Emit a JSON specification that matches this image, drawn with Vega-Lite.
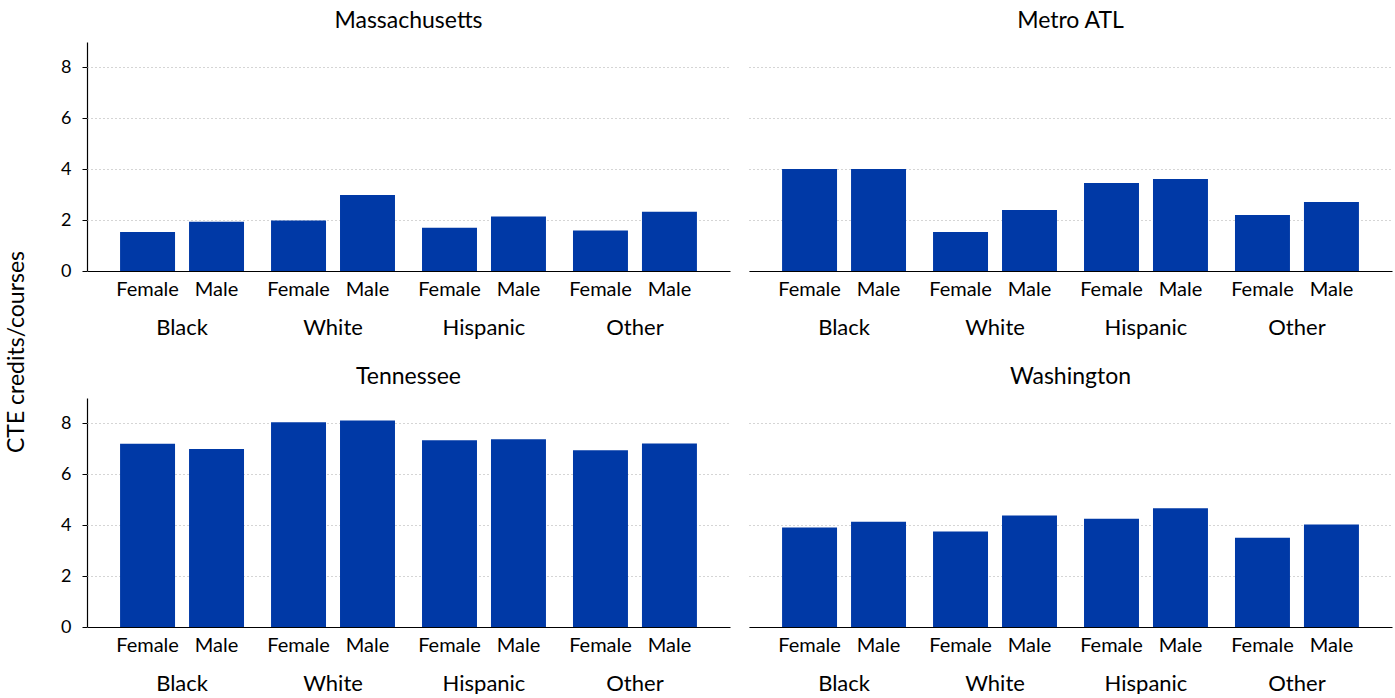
{
  "$schema": "https://vega.github.io/schema/vega-lite/v6.json",
  "background": "white",
  "padding": {"left": 5, "right": 5, "top": 10, "bottom": 0},
  "title": {
    "text": "CTE credits/courses",
    "orient": "left",
    "anchor": "middle",
    "font": "Lato",
    "fontSize": 23,
    "fontWeight": "normal",
    "color": "black",
    "offset": 32
  },
  "data": {
    "values": [
      {"region": "Massachusetts", "race": "Black", "sex": "Female", "credits": 1.53},
      {"region": "Massachusetts", "race": "Black", "sex": "Male", "credits": 1.94},
      {"region": "Massachusetts", "race": "White", "sex": "Female", "credits": 1.98},
      {"region": "Massachusetts", "race": "White", "sex": "Male", "credits": 2.99},
      {"region": "Massachusetts", "race": "Hispanic", "sex": "Female", "credits": 1.70},
      {"region": "Massachusetts", "race": "Hispanic", "sex": "Male", "credits": 2.14},
      {"region": "Massachusetts", "race": "Other", "sex": "Female", "credits": 1.59},
      {"region": "Massachusetts", "race": "Other", "sex": "Male", "credits": 2.33},
      {"region": "Metro ATL", "race": "Black", "sex": "Female", "credits": 4.01},
      {"region": "Metro ATL", "race": "Black", "sex": "Male", "credits": 4.01},
      {"region": "Metro ATL", "race": "White", "sex": "Female", "credits": 1.53},
      {"region": "Metro ATL", "race": "White", "sex": "Male", "credits": 2.40},
      {"region": "Metro ATL", "race": "Hispanic", "sex": "Female", "credits": 3.46},
      {"region": "Metro ATL", "race": "Hispanic", "sex": "Male", "credits": 3.62},
      {"region": "Metro ATL", "race": "Other", "sex": "Female", "credits": 2.20},
      {"region": "Metro ATL", "race": "Other", "sex": "Male", "credits": 2.71},
      {"region": "Tennessee", "race": "Black", "sex": "Female", "credits": 7.20},
      {"region": "Tennessee", "race": "Black", "sex": "Male", "credits": 7.00},
      {"region": "Tennessee", "race": "White", "sex": "Female", "credits": 8.05},
      {"region": "Tennessee", "race": "White", "sex": "Male", "credits": 8.12},
      {"region": "Tennessee", "race": "Hispanic", "sex": "Female", "credits": 7.34},
      {"region": "Tennessee", "race": "Hispanic", "sex": "Male", "credits": 7.38},
      {"region": "Tennessee", "race": "Other", "sex": "Female", "credits": 6.95},
      {"region": "Tennessee", "race": "Other", "sex": "Male", "credits": 7.21},
      {"region": "Washington", "race": "Black", "sex": "Female", "credits": 3.91},
      {"region": "Washington", "race": "Black", "sex": "Male", "credits": 4.14},
      {"region": "Washington", "race": "White", "sex": "Female", "credits": 3.75},
      {"region": "Washington", "race": "White", "sex": "Male", "credits": 4.38},
      {"region": "Washington", "race": "Hispanic", "sex": "Female", "credits": 4.25},
      {"region": "Washington", "race": "Hispanic", "sex": "Male", "credits": 4.67},
      {"region": "Washington", "race": "Other", "sex": "Female", "credits": 3.51},
      {"region": "Washington", "race": "Other", "sex": "Male", "credits": 4.03}
    ]
  },
  "facet": {
    "field": "region",
    "type": "nominal",
    "sort": ["Massachusetts", "Metro ATL", "Tennessee", "Washington"],
    "title": null,
    "header": {
      "labelFont": "Lato",
      "labelFontSize": 23,
      "labelColor": "black",
      "labelPadding": 9
    }
  },
  "columns": 2,
  "spacing": {"column": 19, "row": 28},
  "resolve": {"axis": {"x": "independent"}},
  "spec": {
    "width": 643,
    "height": 229,
    "layer": [
      {
        "mark": {"type": "bar", "color": "#0039a6"},
        "encoding": {
          "x": {
            "field": "race",
            "type": "nominal",
            "sort": ["Black", "White", "Hispanic", "Other"],
            "scale": {"paddingInner": 0.179, "paddingOuter": 0.219},
            "axis": {
              "title": null,
              "labelAngle": 0,
              "labelFont": "Lato",
              "labelFontSize": 22,
              "labelColor": "black",
              "labelBaseline": "alphabetic",
              "labelPadding": 63,
              "ticks": false,
              "domainColor": "black",
              "domainWidth": 1.2,
              "grid": false
            }
          },
          "xOffset": {
            "field": "sex",
            "type": "nominal",
            "sort": ["Female", "Male"],
            "scale": {"paddingInner": 0.203, "paddingOuter": 0}
          },
          "y": {
            "field": "credits",
            "type": "quantitative",
            "scale": {"domain": [0, 9], "nice": false, "zero": true},
            "axis": {
              "title": null,
              "values": [0, 2, 4, 6, 8],
              "labelFont": "Lato",
              "labelFontSize": 18,
              "labelColor": "black",
              "labelPadding": 11,
              "tickSize": 5,
              "tickColor": "black",
              "domainColor": "black",
              "domainWidth": 1.2,
              "grid": true,
              "gridColor": "#aaaaaa",
              "gridDash": [1, 3],
              "gridWidth": 1
            }
          }
        }
      },
      {
        "mark": {
          "type": "text",
          "baseline": "alphabetic",
          "dy": 25,
          "font": "Lato",
          "fontSize": 20,
          "color": "black"
        },
        "encoding": {
          "x": {"field": "race", "type": "nominal", "sort": ["Black", "White", "Hispanic", "Other"]},
          "xOffset": {"field": "sex", "type": "nominal", "sort": ["Female", "Male"]},
          "y": {"datum": 0},
          "text": {"field": "sex"}
        }
      }
    ]
  },
  "config": {
    "view": {"stroke": null}
  }
}
